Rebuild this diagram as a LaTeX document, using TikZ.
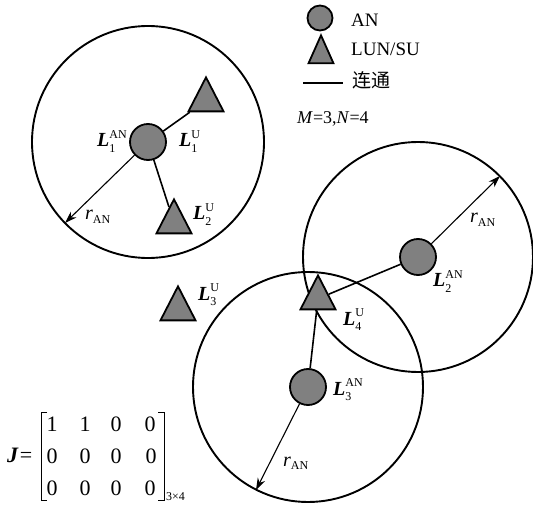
\documentclass[tikz,border=0pt]{standalone}
\usepackage{amsmath}
\usepackage{fontspec}
\setmainfont{Liberation Serif}
\newfontfamily\cjk{Noto Sans CJK SC}
\usetikzlibrary{shapes.geometric,arrows.meta,backgrounds}
\DeclareMathSizes{20}{20}{12}{9}
\definecolor{nodegray}{RGB}{128,128,128}
\newcommand{\Lab}[2]{$\text{\bfseries\itshape L}^{\text{#2}}_{\text{#1}}$}
\newcommand{\rAN}{$\text{\itshape r}_{\text{AN}}$}
\begin{document}
\begin{tikzpicture}[x=1pt,y=-1pt,
  an/.style={circle,draw,fill=nodegray,line width=1.8pt,minimum size=36pt,inner sep=0pt},
  tri/.style={isosceles triangle,isosceles triangle stretches,shape border rotate=90,draw,fill=nodegray,line width=1.8pt,minimum width=35pt,minimum height=34pt,inner sep=0pt,anchor=apex},
  link/.style={line width=1.6pt},
  coverage/.style={line width=1.9pt},
  radiusarrow/.style={line width=1.1pt,-{Stealth[length=12pt,width=8pt]}},
  lbl/.style={inner sep=0pt,anchor=base west,font=\fontsize{20}{24}\selectfont},
  legtext/.style={inner sep=0pt,anchor=base west,font=\fontsize{19}{23}\selectfont},
  entry/.style={inner sep=0pt,anchor=base,font=\fontsize{22}{26}\selectfont},
  bracket/.style={line width=0.9pt}]
\useasboundingbox (0,0) rectangle (533,505);

% access nodes
\node[an] (an1) at (148,142) {};
\node[an] (an2) at (418,257) {};
\node[an] (an3) at (308,387) {};

% users
\node[tri] (t1) at (206,75) {};
\node[tri] (t2) at (174,197) {};
\node[tri] (t3) at (178,284) {};
\node[tri] (t4) at (318,273) {};

% coverage circles
\begin{scope}[on background layer]
  \draw[coverage] (an1) circle[radius=116pt];
  \draw[coverage] (an2) circle[radius=115pt];
  \draw[coverage] (an3) circle[radius=115pt];
\end{scope}

% links
\draw[link] (an1) -- (t1);
\draw[link] (an1) -- (t2);
\draw[link] (an2) -- (t4);
\draw[link] (an3) -- (t4);

% radius arrows
\coordinate (e1) at (65,223);
\coordinate (e2) at (500,176);
\coordinate (e3) at (256,490);
\draw[radiusarrow] (an1) -- (e1);
\draw[radiusarrow] (an2) -- (e2);
\draw[radiusarrow] (an3) -- (e3);

% labels
\node[lbl] (l1an) at (97,147) {\Lab{1}{AN}};
\node[lbl] (l1u) at (179,147) {\Lab{1}{U}};
\node[lbl] (l2u) at (193,220) {\Lab{2}{U}};
\node[lbl] (l3u) at (198,300) {\Lab{3}{U}};
\node[lbl] (l4u) at (343,325) {\Lab{4}{U}};
\node[lbl] (l2an) at (433,287) {\Lab{2}{AN}};
\node[lbl] (l3an) at (333,395) {\Lab{3}{AN}};
\node[lbl] (r1) at (85,220) {\rAN};
\node[lbl] (r2) at (470,223) {\rAN};
\node[lbl] (r3) at (283,466) {\rAN};

% legend
\node[an,minimum size=25pt] (legan) at (320,18) {};
\node[tri,minimum width=25pt,minimum height=28pt] (legtri) at (321,33) {};
\coordinate (lega) at (303,83);
\coordinate (legb) at (343,83);
\draw[link] (lega) -- (legb);
\node[legtext] (legantext) at (351,27) {AN};
\node[legtext] (legtritext) at (351,56) {LUN/SU};
\node[legtext] (leglinktext) at (352,88) {\cjk 连通};
\node[legtext,font=\fontsize{18}{22}\selectfont] (mn) at (297,124) {\textit{M}=3,\textit{N}=4};

% matrix J
\node[entry,anchor=base west] (jeq) at (7,462) {\textbf{\textit{J}}\kern1pt=};
\node[entry] (m11) at (52,431) {1};
\node[entry] (m12) at (85,431) {1};
\node[entry] (m13) at (116,431) {0};
\node[entry] (m14) at (150,431) {0};
\node[entry] (m21) at (52,463) {0};
\node[entry] (m22) at (85,463) {0};
\node[entry] (m23) at (116,463) {0};
\node[entry] (m24) at (151,463) {0};
\node[entry] (m31) at (52,495) {0};
\node[entry] (m32) at (85,495) {0};
\node[entry] (m33) at (116,495) {0};
\node[entry] (m34) at (150,495) {0};
\draw[bracket] (47,412) -- (41,412) -- (41,500) -- (47,500);
\draw[bracket] (158,412) -- (164,412) -- (164,500) -- (158,500);
\node[inner sep=0pt,anchor=base west,font=\fontsize{12}{14}\selectfont] (msize) at (166,500) {3×4};
\end{tikzpicture}
\end{document}
